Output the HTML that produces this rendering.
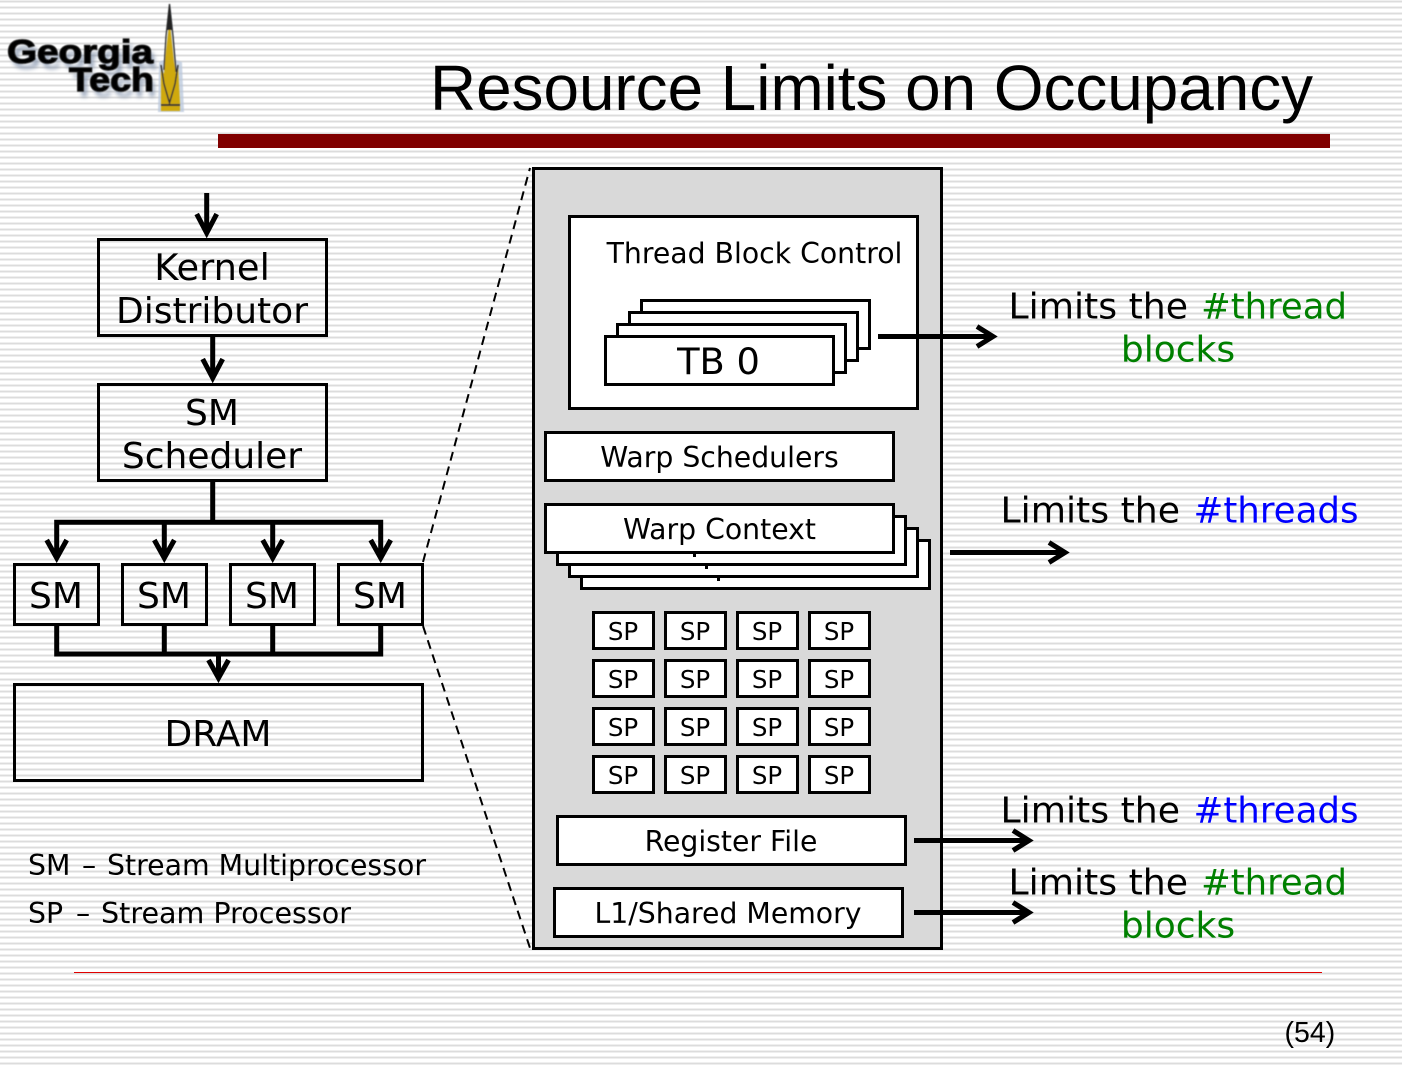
<!DOCTYPE html>
<html><head><meta charset="utf-8"><style>
html,body{margin:0;padding:0;background:#fff}
svg{display:block}
text{font-family:"DejaVu Sans",sans-serif;fill:#000}
.c{text-anchor:middle}
.b{font-size:36px}
.m{font-size:28.3px}
.s{font-size:24.5px}
.ar{fill:none;stroke:#000;stroke-width:5;stroke-linejoin:miter}
.bx{fill:none;stroke:#000;stroke-width:3}
.w{fill:#fff;stroke:#000;stroke-width:3}
.lg{font-family:"Liberation Sans",sans-serif;font-weight:bold;font-size:33px}
</style></head><body>
<svg width="1402" height="1068" viewBox="0 0 1402 1068" xmlns="http://www.w3.org/2000/svg">
<defs>
<pattern id="st" width="6" height="6" patternUnits="userSpaceOnUse">
<rect width="6" height="6" fill="#fff"/>
<rect y="0" width="6" height="1" fill="#efefef"/>
<rect y="1" width="6" height="1" fill="#dcdcdc"/>
<rect y="2" width="6" height="1" fill="#eeeeee"/>
</pattern>
<filter id="bl" x="-10%" y="-30%" width="120%" height="160%"><feGaussianBlur stdDeviation="2"/></filter>
<filter id="bs" x="-20%" y="-10%" width="140%" height="120%"><feGaussianBlur stdDeviation="0.5"/></filter>
</defs>
<rect width="1402" height="1068" fill="url(#st)"/>

<!-- logo -->
<g filter="url(#bl)" opacity=".75">
<text class="lg" x="11" y="69" style="fill:#7f8fa8" textLength="146" lengthAdjust="spacingAndGlyphs">Georgia</text>
<text class="lg" x="73" y="97" style="fill:#7f8fa8" textLength="84" lengthAdjust="spacingAndGlyphs">Tech</text>
</g>
<g filter="url(#bs)">
<text class="lg" x="7" y="63" style="stroke:#111;stroke-width:1.2" textLength="146" lengthAdjust="spacingAndGlyphs">Georgia</text>
<text class="lg" x="69" y="91" style="stroke:#111;stroke-width:1.2" textLength="85" lengthAdjust="spacingAndGlyphs">Tech</text>
</g>
<polygon points="170,4 176,60 182,62 184,112 158,112 159,62 164,60" fill="#b9c7dc" filter="url(#bs)" opacity=".75"/>
<g filter="url(#bs)">
<polygon points="169.5,20 174,62 176,74 178,66 180,104 161,104 161,68 164,74 166,52" fill="#cfa908"/>
<path d="M169.5,4 L166,36 L164,70" fill="none" stroke="#333" stroke-width="1.3"/>
<path d="M169.5,4 L173,36 L176,72" fill="none" stroke="#333" stroke-width="1.3"/>
<path d="M169.5,4 L167,30 L172,30 Z" fill="#222"/>
<path d="M161,65 L164,84 L169.5,103 L175,84 L178,65" fill="none" stroke="#333" stroke-width="1.5"/>
<rect x="161" y="104" width="19" height="2" fill="#333"/>
<rect x="161" y="106" width="19" height="5" fill="#cfa908"/>
</g>

<text x="430" y="110" style="font-family:'Liberation Sans',sans-serif;font-size:64px" textLength="883" lengthAdjust="spacingAndGlyphs">Resource Limits on Occupancy</text>
<rect x="218" y="134" width="1112" height="14" fill="#800000"/>
<rect x="74" y="972" width="1248" height="1" fill="#e00000"/>
<text x="1284.5" y="1042" style="font-family:'Liberation Sans',sans-serif;font-size:28.5px">(54)</text>

<!-- dashed zoom lines -->
<line x1="423" y1="562" x2="530" y2="168" stroke="#000" stroke-width="2" stroke-dasharray="9 6"/>
<line x1="423" y1="626" x2="530" y2="948" stroke="#000" stroke-width="2" stroke-dasharray="9 6"/>

<!-- left column -->
<rect class="bx" x="98.5" y="239.5" width="228" height="96"/>
<text class="c" style="font-size:36.8px" x="212" y="280">Kernel</text>
<text class="b c" x="212" y="323">Distributor</text>
<rect class="bx" x="98.5" y="384.5" width="228" height="96"/>
<text class="b c" x="212" y="425">SM</text>
<text class="b c" x="212" y="468">Scheduler</text>

<path class="ar" d="M206.7,193V233M196.7,214L206.7,233L216.7,214"/>
<path class="ar" d="M212.7,336V378M202.7,359L212.7,378L222.7,359"/>
<path class="ar" d="M212.7,482V522.3M56.7,558V522.3H380.7V558M46.7,540L56.7,558L66.7,540M154.3,540L164.3,558L174.3,540M262.7,540L272.7,558L282.7,540M370.7,540L380.7,558L390.7,540M164.3,522V558M272.7,522V558"/>
<path class="ar" d="M56.7,626V654H380.7V626M164.3,626V654M272.7,626V654M218.5,654V678M208.5,660L218.5,678L228.5,660"/>

<rect class="bx" x="14.5" y="564.5" width="84" height="60"/>
<rect class="bx" x="122.5" y="564.5" width="84" height="60"/>
<rect class="bx" x="230.5" y="564.5" width="84" height="60"/>
<rect class="bx" x="338.5" y="564.5" width="84" height="60"/>
<text class="b c" x="56" y="608">SM</text>
<text class="b c" x="164" y="608">SM</text>
<text class="b c" x="272" y="608">SM</text>
<text class="b c" x="380" y="608">SM</text>
<rect class="bx" x="14.5" y="684.5" width="408" height="96"/>
<text class="b c" x="218" y="746">DRAM</text>

<text class="m" x="28" y="875">SM</text>
<text class="m" x="82" y="875">–</text>
<text class="m" x="107" y="875" textLength="319" lengthAdjust="spacingAndGlyphs">Stream Multiprocessor</text>
<text class="m" x="28" y="923">SP</text>
<text class="m" x="76" y="923">–</text>
<text class="m" x="101" y="923" textLength="250" lengthAdjust="spacingAndGlyphs">Stream Processor</text>

<!-- panel -->
<rect x="533.5" y="168.5" width="408" height="780" fill="#d9d9d9" stroke="#000" stroke-width="3"/>
<rect class="w" x="569.5" y="216.5" width="348" height="192"/>
<text class="m c" x="754.5" y="263">Thread Block Control</text>
<rect class="w" x="641.5" y="300.5" width="228" height="48"/>
<rect class="w" x="629.5" y="312.5" width="228" height="48"/>
<rect class="w" x="617.5" y="324.5" width="228" height="48"/>
<rect class="w" x="605.5" y="336.5" width="228" height="48"/>
<text class="c" style="font-size:36.8px" x="718.5" y="374">TB 0</text>

<rect class="w" x="545.5" y="432.5" width="348" height="48"/>
<text class="m c" x="719.5" y="467">Warp Schedulers</text>

<rect class="w" x="581.5" y="540.5" width="348" height="48"/>
<rect class="w" x="569.5" y="528.5" width="348" height="48"/>
<rect class="w" x="557.5" y="516.5" width="348" height="48"/>
<rect class="w" x="545.5" y="504.5" width="348" height="48"/>
<text class="m c" x="719.5" y="539">Warp Context</text>
<rect x="693" y="553" width="3" height="4"/>
<rect x="705" y="565" width="3" height="4"/>
<rect x="717" y="577" width="3" height="4"/>

<g>
<rect class="w" x="593.5" y="612.5" width="60" height="36"/><rect class="w" x="665.5" y="612.5" width="60" height="36"/><rect class="w" x="737.5" y="612.5" width="60" height="36"/><rect class="w" x="809.5" y="612.5" width="60" height="36"/>
<rect class="w" x="593.5" y="660.5" width="60" height="36"/><rect class="w" x="665.5" y="660.5" width="60" height="36"/><rect class="w" x="737.5" y="660.5" width="60" height="36"/><rect class="w" x="809.5" y="660.5" width="60" height="36"/>
<rect class="w" x="593.5" y="708.5" width="60" height="36"/><rect class="w" x="665.5" y="708.5" width="60" height="36"/><rect class="w" x="737.5" y="708.5" width="60" height="36"/><rect class="w" x="809.5" y="708.5" width="60" height="36"/>
<rect class="w" x="593.5" y="756.5" width="60" height="36"/><rect class="w" x="665.5" y="756.5" width="60" height="36"/><rect class="w" x="737.5" y="756.5" width="60" height="36"/><rect class="w" x="809.5" y="756.5" width="60" height="36"/>
</g>
<g>
<text class="s c" x="623" y="640">SP</text><text class="s c" x="695" y="640">SP</text><text class="s c" x="767" y="640">SP</text><text class="s c" x="839" y="640">SP</text>
<text class="s c" x="623" y="688">SP</text><text class="s c" x="695" y="688">SP</text><text class="s c" x="767" y="688">SP</text><text class="s c" x="839" y="688">SP</text>
<text class="s c" x="623" y="736">SP</text><text class="s c" x="695" y="736">SP</text><text class="s c" x="767" y="736">SP</text><text class="s c" x="839" y="736">SP</text>
<text class="s c" x="623" y="784">SP</text><text class="s c" x="695" y="784">SP</text><text class="s c" x="767" y="784">SP</text><text class="s c" x="839" y="784">SP</text>
</g>

<rect class="w" x="557.5" y="816.5" width="348" height="48"/>
<text class="m c" x="731" y="851">Register File</text>
<rect class="w" x="554.5" y="888.5" width="348" height="48"/>
<text class="m c" x="728" y="923">L1/Shared Memory</text>

<!-- right arrows -->
<path class="ar" d="M878,336.5H991M977,326.5L993,336.5L977,346.5"/>
<path class="ar" d="M950,552.5H1063M1049,542.5L1065,552.5L1049,562.5"/>
<path class="ar" d="M914,840.5H1027M1013,830.5L1029,840.5L1013,850.5"/>
<path class="ar" d="M914,912.5H1027M1013,902.5L1029,912.5L1013,922.5"/>

<text class="b" x="1008.5" y="318.5" textLength="179.5" lengthAdjust="spacingAndGlyphs">Limits the</text>
<text class="b" x="1201" y="318.5" textLength="146" lengthAdjust="spacingAndGlyphs" style="fill:#008000">#thread</text>
<text class="b c" x="1178" y="361.5" style="fill:#008000">blocks</text>
<text class="b" x="1000.5" y="522.5" textLength="179.5" lengthAdjust="spacingAndGlyphs">Limits the</text>
<text class="b" x="1193.5" y="522.5" textLength="165" lengthAdjust="spacingAndGlyphs" style="fill:#0000ff">#threads</text>
<text class="b" x="1000.5" y="822.5" textLength="179.5" lengthAdjust="spacingAndGlyphs">Limits the</text>
<text class="b" x="1193.5" y="822.5" textLength="165" lengthAdjust="spacingAndGlyphs" style="fill:#0000ff">#threads</text>
<text class="b" x="1008.5" y="894.5" textLength="179.5" lengthAdjust="spacingAndGlyphs">Limits the</text>
<text class="b" x="1201" y="894.5" textLength="146" lengthAdjust="spacingAndGlyphs" style="fill:#008000">#thread</text>
<text class="b c" x="1178" y="937.5" style="fill:#008000">blocks</text>
</svg>
</body></html>
